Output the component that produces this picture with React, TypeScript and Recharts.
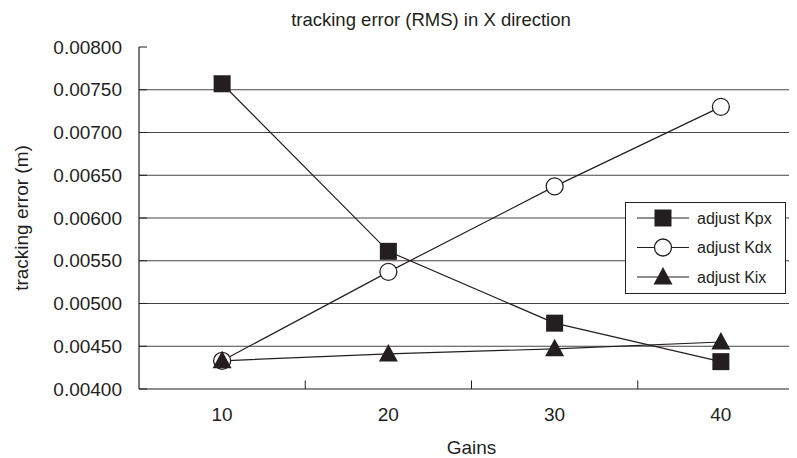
import React from 'react';
import {
	LineChart,
	Line,
	XAxis,
	YAxis,
	Legend,
	ReferenceLine,
} from 'recharts';

// categories and series values
const gains = [10, 20, 30, 40];
const kpx = [0.00757, 0.00561, 0.00477, 0.00432];
const kdx = [0.00433, 0.00537, 0.00637, 0.0073];
const kix = [0.00433, 0.00441, 0.00447, 0.00455];

const yTicks = [0.004, 0.0045, 0.005, 0.0055, 0.006, 0.0065, 0.007, 0.0075, 0.008];
const xBounds = [15, 25, 35];
const seriesNames = ['adjust Kpx', 'adjust Kdx', 'adjust Kix'];

const data = gains.map((g, i) => ({ gain: g, kpx: kpx[i], kdx: kdx[i], kix: kix[i] }));

const INK = '#231f20';
const FONT = '"Liberation Sans", Arial, sans-serif';

const Square = ({ cx, cy }: any) =>
	cx == null ? null : <rect x={cx - 8.5} y={cy - 8.5} width={17} height={17} fill={INK} />;

const Circle = ({ cx, cy }: any) =>
	cx == null ? null : <circle cx={cx} cy={cy} r={8.5} fill='#fff' stroke={INK} strokeWidth={1.3} />;

const Triangle = ({ cx, cy }: any) =>
	cx == null ? null : (
		<polygon points={`${cx},${cy - 10} ${cx - 9.5},${cy + 7.5} ${cx + 9.5},${cy + 7.5}`} fill={INK} />
	);

// y tick: label plus a short inward tick (only visible at the top, gridlines cover the rest)
const YTick = ({ x, y, payload }: any) => (
	<g>
		<text x={x} y={y} textAnchor='end' dominantBaseline='central' fontSize={19} fill={INK} fontFamily={FONT}>
			{Number(payload.value).toFixed(5)}
		</text>
		<line x1={x + 17} x2={x + 25} y1={y} y2={y} stroke={INK} strokeWidth={1} />
	</g>
);

const markers = [Square, Circle, Triangle];

const LegendBox = () => (
	<svg width={162} height={93}>
		<rect x={0.5} y={0.5} width={160} height={91} fill='#fff' stroke={INK} strokeWidth={1} />
		{seriesNames.map((name, i) => {
			const cy = 16 + i * 29.5;
			const M = markers[i];
			return (
				<g key={name}>
					<line x1={12} x2={64} y1={cy} y2={cy} stroke={INK} strokeWidth={1.2} />
					<M cx={38} cy={cy} />
					<text x={72} y={cy} dominantBaseline='central' fontSize={16} fill={INK} fontFamily={FONT}>
						{name}
					</text>
				</g>
			);
		})}
	</svg>
);

const YLabel = ({ viewBox }: any) => {
	const x = viewBox.x + 13;
	const y = viewBox.y + viewBox.height / 2;
	return (
		<text
			x={x}
			y={y}
			transform={`rotate(-90, ${x}, ${y})`}
			textAnchor='middle'
			dominantBaseline='central'
			fontSize={19}
			fill={INK}
			fontFamily={FONT}>
			tracking error (m)
		</text>
	);
};

const App = () => {
	return (
		<div style={{ position: 'relative', width: 789, height: 450, overflow: 'hidden', fontFamily: FONT }}>
			<LineChart width={800} height={450} data={data} margin={{ top: 39, right: 4, bottom: 3, left: 0 }}>
				{yTicks.slice(1, -1).map((v) => (
					<ReferenceLine key={v} y={v} stroke='#444' strokeWidth={1} />
				))}
				{xBounds.map((b) => (
					<ReferenceLine
						key={b}
						stroke={INK}
						strokeWidth={1}
						segment={[
							{ x: b, y: 0.004 },
							{ x: b, y: 0.0041 },
						]}
					/>
				))}
				<XAxis
					dataKey='gain'
					type='number'
					domain={[5, 45]}
					ticks={gains}
					interval={0}
					height={66}
					tickLine={false}
					tickSize={6}
					tickMargin={13}
					axisLine={{ stroke: INK, strokeWidth: 1.2 }}
					tick={{ fontSize: 19, fill: INK }}
					label={{ value: 'Gains', position: 'insideBottom', offset: 1, fontSize: 19, fill: INK }}
				/>
				<YAxis
					type='number'
					domain={[0.004, 0.008]}
					ticks={yTicks}
					interval={0}
					width={131}
					tickLine={false}
					tickSize={6}
					tickMargin={11}
					axisLine={{ stroke: INK, strokeWidth: 1.2 }}
					tick={<YTick />}
					label={<YLabel />}
				/>
				<Legend
					layout='vertical'
					align='center'
					verticalAlign='middle'
					content={() => <LegendBox />}
					wrapperStyle={{ left: 617, top: 194, width: 162, height: 93 }}
				/>
				<Line dataKey='kpx' name={seriesNames[0]} stroke={INK} strokeWidth={1.2} dot={<Square />} isAnimationActive={false} />
				<Line dataKey='kdx' name={seriesNames[1]} stroke={INK} strokeWidth={1.2} dot={<Circle />} isAnimationActive={false} />
				<Line dataKey='kix' name={seriesNames[2]} stroke={INK} strokeWidth={1.2} dot={<Triangle />} isAnimationActive={false} />
			</LineChart>
			<div
				style={{
					position: 'absolute',
					top: 0,
					left: 0,
					width: 846,
					textAlign: 'center',
					fontSize: 18.5,
					lineHeight: '24px',
					color: INK,
				}}>
				tracking error (RMS) in X direction
			</div>
		</div>
	);
};

export default App;
